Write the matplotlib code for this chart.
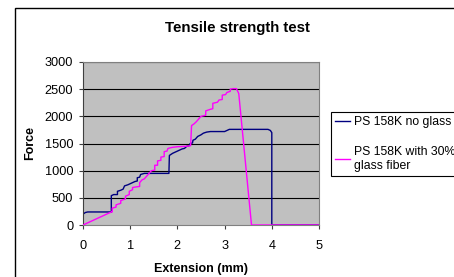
import matplotlib
matplotlib.use("Agg")
import matplotlib.pyplot as plt
from matplotlib.patches import Rectangle

plt.rcParams["font.family"] = ["Liberation Sans", "DejaVu Sans"]

# PS 158K no glass
blue_x = [0, 0, 0.05, 0.1, 0.6, 0.6, 0.65, 0.73, 0.73, 0.8, 0.85, 0.88, 0.95, 1.0, 1.05,
          1.1, 1.15, 1.15, 1.2, 1.22, 1.3, 1.82, 1.83, 1.9, 2.0, 2.1, 2.15, 2.2, 2.25, 2.27,
          2.32, 2.33, 2.38, 2.43, 2.5, 2.55, 2.62, 2.7, 3.0, 3.05, 3.1, 3.92, 3.97, 4.0, 4.0, 5.0]
blue_y = [0, 200, 230, 240, 240, 540, 560, 560, 620, 640, 660, 720, 740, 760, 780,
          800, 810, 870, 880, 930, 950, 950, 1280, 1320, 1360, 1400, 1410, 1450, 1460, 1500,
          1510, 1560, 1580, 1630, 1660, 1690, 1710, 1720, 1720, 1740, 1760, 1760, 1740, 1700, 0, 0]

# PS 158K with 30% glass fiber
mag_x = [0, 0.6, 0.62, 0.62, 0.7, 0.7, 0.8, 0.8, 0.9, 0.9, 0.98, 0.98, 1.05, 1.05, 1.12,
         1.2, 1.2, 1.25, 1.3, 1.35, 1.4, 1.45, 1.52, 1.52, 1.58, 1.58, 1.65, 1.65, 1.72, 1.72,
         1.78, 1.8, 1.9, 2.0, 2.2, 2.28, 2.3, 2.35, 2.4, 2.45, 2.5, 2.6, 2.6, 2.7, 2.75, 2.75,
         2.85, 2.88, 2.95, 2.95, 3.02, 3.05, 3.12, 3.12, 3.18, 3.25, 3.3, 3.57, 5.0]
mag_y = [0, 240, 240, 310, 330, 370, 400, 450, 480, 530, 560, 620, 650, 690, 700,
         710, 780, 830, 850, 900, 950, 1000, 1010, 1100, 1100, 1180, 1190, 1250, 1260, 1350,
         1360, 1410, 1430, 1440, 1450, 1460, 1830, 1860, 1900, 1950, 2000, 2020, 2100, 2130, 2140, 2240,
         2260, 2300, 2310, 2390, 2400, 2440, 2460, 2500, 2510, 2510, 2420, 0, 0]

fig = plt.figure(figsize=(4.54, 2.77), dpi=100)
fig.patch.set_facecolor("white")

# outer chart border (runs off the right/bottom edges)
fig.patches.append(Rectangle((15 / 454, -0.1), 1.0, (277 - 8) / 277 + 0.1,
                             transform=fig.transFigure, fill=False,
                             edgecolor="black", linewidth=1.0))

ax = fig.add_axes([83 / 454, 52 / 277, 236 / 454, 163 / 277])
ax.set_facecolor("#c0c0c0")

for yv in range(500, 3001, 500):
    ax.axhline(yv, color="black", linewidth=0.8, zorder=1)

ax.plot(blue_x, blue_y, color="#000080", linewidth=1.0, zorder=2, label="PS 158K no glass")
ax.plot(mag_x, mag_y, color="#ff00ff", linewidth=1.0, zorder=3,
        label="PS 158K with 30%\nglass fiber")

ax.set_xlim(0, 5)
ax.set_ylim(0, 3000)
ax.set_xticks(range(0, 6))
ax.set_yticks(range(0, 3001, 500))
ax.tick_params(labelsize=9.2, length=3, width=0.8, color="#404040", pad=4)
ax.tick_params(axis="x", pad=8)

for s in ["top", "right"]:
    ax.spines[s].set_color("#808080")
ax.spines["left"].set_color("#404040")
ax.spines["bottom"].set_color("#808080")
for s in ax.spines.values():
    s.set_linewidth(0.8)

fig.text(237 / 454, 1 - 28 / 277, "Tensile strength test", fontsize=10.8,
         fontweight="bold", ha="center", va="center")
ax.set_xlabel("Extension (mm)", fontsize=9, fontweight="bold", labelpad=8)
ax.set_ylabel("Force", fontsize=9, fontweight="bold", labelpad=6)

leg = fig.legend(loc="upper left", bbox_to_anchor=(331 / 454, 1 - 112 / 277),
                 fontsize=8.8, handlelength=1.2, handletextpad=0.3,
                 borderpad=0.35, labelspacing=1.45, fancybox=False, framealpha=1,
                 edgecolor="black", borderaxespad=0)
leg.get_frame().set_linewidth(0.8)

fig.savefig("out.png", dpi=100, facecolor="white")
